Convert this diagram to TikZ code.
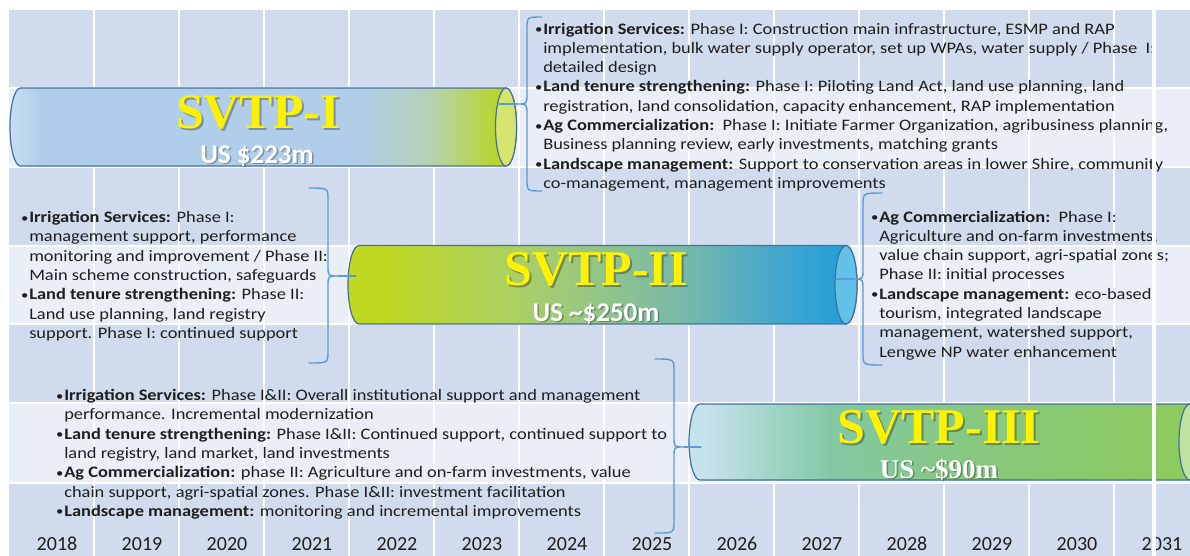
\documentclass[tikz,border=0pt]{standalone}
\usepackage{fontspec}
\setmainfont{Carlito}
\newfontfamily\tnr{Liberation Serif}
\definecolor{bgdark}{RGB}{208,220,238}
\definecolor{bglight}{RGB}{233,238,247}
\definecolor{cylline}{RGB}{65,113,156}
\definecolor{bracec}{RGB}{91,155,213}
\definecolor{txtc}{RGB}{30,30,30}
\definecolor{aL}{RGB}{200,222,241}
\definecolor{aM}{RGB}{176,206,233}
\definecolor{aX}{RGB}{182,210,180}
\definecolor{aG}{RGB}{185,212,44}
\definecolor{capI}{RGB}{212,228,108}
\definecolor{bY}{RGB}{192,217,32}
\definecolor{bG}{RGB}{168,206,107}
\definecolor{bT}{RGB}{122,185,170}
\definecolor{bS}{RGB}{60,165,208}
\definecolor{bB}{RGB}{28,156,216}
\definecolor{capII}{RGB}{99,192,232}
\definecolor{cL}{RGB}{198,226,236}
\definecolor{cT}{RGB}{130,200,165}
\definecolor{cM}{RGB}{135,200,130}
\definecolor{cG}{RGB}{141,203,96}
\definecolor{capIII}{RGB}{190,227,160}
\newcommand\bul{\makebox[7pt][l]{\raisebox{0.5pt}{\scalebox{0.8}{\textbullet}}}}
\newcommand\ind{\hspace*{7pt}}
\newcommand\blk[1]{\scalebox{1.15}[1]{\vtop{\baselineskip=19.3pt\lineskiplimit=-20pt\lineskip=0pt #1}}}
\tikzset{
  gridline/.style={draw=white, line width=2pt},
  cyl/.style={draw=cylline, line width=1.2pt},
  bracepath/.style={draw=bracec, line width=1.4pt, line cap=round},
  txtblock/.style={anchor=base west, inner sep=0pt, text=txtc, font=\fontsize{16}{19.3}\selectfont},
  title/.style={anchor=base, inner sep=0pt, text=yellow, font=\tnr\bfseries\fontsize{50}{50}\selectfont},
  titleshadow/.style={title, text=black, opacity=0.3},
  cost/.style={anchor=base, inner sep=0pt, text=white, font=\bfseries\fontsize{27}{27}\selectfont},
  costserif/.style={cost, font=\tnr\bfseries\fontsize{27}{27}\selectfont},
  costshadow/.style={text=black, opacity=0.3},
  year/.style={anchor=base, inner sep=0pt, text=txtc, font=\fontsize{20}{20}\selectfont}
}
\begin{document}
\begin{tikzpicture}[x=1pt,y=-1pt]
\useasboundingbox (0,0) rectangle (1190,555);
\begin{scope}
\clip (0,0) rectangle (1190,555);
\fill[white] (0,0) rectangle (1190,555);
% background table
\fill[bgdark] (9,10) rectangle (1200,560);
\foreach \t/\b in {88/167, 246/324, 403/483}{
  \fill[bglight] (9,\t) rectangle (1200,\b);
}
\foreach \k in {1,...,13}{
  \draw[gridline] ({9+85*\k},10) -- ({9+85*\k},560);
}
\foreach \yy in {88,167,246,324,403,483}{
  \draw[gridline] (9,\yy) -- (1200,\yy);
}

% ---------- SVTP-I cylinder ----------
\begin{scope}
\clip (506,88) -- (20.5,88) arc[start angle=270, end angle=90, x radius=10.5, y radius=39] -- (506,166) arc[start angle=90, end angle=-90, x radius=10.5, y radius=39] -- cycle;
\shade[left color=aL, right color=aM] (9,80) rectangle (41,175);
\fill[aM] (40,80) rectangle (361,175);
\shade[left color=aM, right color=aX] (360,80) rectangle (431,175);
\shade[left color=aX, right color=aG] (430,80) rectangle (496,175);
\fill[aG] (495,80) rectangle (520,175);
\end{scope}
\path[cyl] (506,88) -- (20.5,88) arc[start angle=270, end angle=90, x radius=10.5, y radius=39] -- (506,166) arc[start angle=90, end angle=-90, x radius=10.5, y radius=39] -- cycle;
\path[cyl, fill=capI] (506,127) ellipse [x radius=10.5, y radius=39];
\coordinate (capI) at (499,104);

% ---------- SVTP-II cylinder ----------
\begin{scope}
\clip (846,245.5) -- (359,245.5) arc[start angle=270, end angle=90, x radius=11, y radius=39.25] -- (846,324) arc[start angle=90, end angle=-90, x radius=11, y radius=39.25] -- cycle;
\fill[bY] (340,240) rectangle (381,330);
\shade[left color=bY, right color=bG] (380,240) rectangle (531,330);
\shade[left color=bG, right color=bT] (530,240) rectangle (681,330);
\shade[left color=bT, right color=bS] (680,240) rectangle (791,330);
\shade[left color=bS, right color=bB] (790,240) rectangle (860,330);
\end{scope}
\path[cyl] (846,245.5) -- (359,245.5) arc[start angle=270, end angle=90, x radius=11, y radius=39.25] -- (846,324) arc[start angle=90, end angle=-90, x radius=11, y radius=39.25] -- cycle;
\path[cyl, fill=capII] (846,284.75) ellipse [x radius=11, y radius=39.25];
\coordinate (capIIa) at (356,276);
\coordinate (capIIb) at (836,279);

% ---------- SVTP-III cylinder ----------
\begin{scope}
\clip (1190,404) -- (700,404) arc[start angle=270, end angle=90, x radius=11, y radius=38] -- (1190,480) arc[start angle=90, end angle=-90, x radius=11, y radius=38] -- cycle;
\fill[cL] (680,400) rectangle (706,485);
\shade[left color=cL, right color=cT] (705,400) rectangle (831,485);
\shade[left color=cT, right color=cM] (830,400) rectangle (961,485);
\shade[left color=cM, right color=cG] (960,400) rectangle (1161,485);
\fill[cG] (1160,400) rectangle (1205,485);
\end{scope}
\path[cyl] (1190,404) -- (700,404) arc[start angle=270, end angle=90, x radius=11, y radius=38] -- (1190,480) arc[start angle=90, end angle=-90, x radius=11, y radius=38] -- cycle;
\path[cyl, fill=capIII] (1190,442) ellipse [x radius=11, y radius=38];
\coordinate (capIII) at (701,447);

% ---------- titles ----------
\node[titleshadow] (tIs) at (260,130) {SVTP-I};
\node[title] (tI) at (258,128) {SVTP-I};
\node[cost, costshadow] (cIs) at (258.5,164.5) {US \$223m};
\node[cost] (cI) at (257,163) {US \$223m};

\node[titleshadow] (tIIs) at (598,287) {SVTP-II};
\node[title] (tII) at (596,285) {SVTP-II};
\node[cost, costshadow] (cIIs) at (597.5,322.5) {US \textasciitilde\$250m};
\node[cost] (cII) at (596,321) {US \textasciitilde\$250m};

\node[titleshadow] (tIIIs) at (941,445) {SVTP-III};
\node[title] (tIII) at (939,443) {SVTP-III};
\node[costserif, costshadow] (cIIIs) at (940.5,479.5) {US \textasciitilde\$90m};
\node[costserif] (cIII) at (939,478) {US \textasciitilde\$90m};

% ---------- braces ----------
% SVTP-I  "{"
\coordinate (bIt) at (517,104);
\draw[bracepath] (542,17) .. controls (527,17) .. (527,29) -- (527,94) .. controls (527,104) .. (bIt) .. controls (527,104) .. (527,114) -- (527,179) .. controls (527,191) .. (542,191);
\draw[bracepath] (bIt) -- (capI);
% SVTP-II left "}"
\coordinate (bIIat) at (338,276);
\draw[bracepath] (309,188) .. controls (328,188) .. (328,200) -- (328,266) .. controls (328,276) .. (bIIat) .. controls (328,276) .. (328,286) -- (328,351) .. controls (328,363) .. (309,363);
\draw[bracepath] (bIIat) -- (capIIa);
% SVTP-II right "{"
\coordinate (bIIbt) at (853,279);
\draw[bracepath] (882,193) .. controls (863,193) .. (863,205) -- (863,269) .. controls (863,279) .. (bIIbt) .. controls (863,279) .. (863,289) -- (863,353) .. controls (863,365) .. (882,365);
\draw[bracepath] (bIIbt) -- (capIIb);
% SVTP-III "}"
\coordinate (bIIIt) at (684,447);
\draw[bracepath] (655,359) .. controls (674,359) .. (674,371) -- (674,437) .. controls (674,447) .. (bIIIt) .. controls (674,447) .. (674,457) -- (674,521) .. controls (674,533) .. (655,533);
\draw[bracepath] (bIIIt) -- (capIII);

% ---------- text blocks ----------
\node[txtblock] (sI) at (535,34) {\blk{%
\hbox{\bul\textbf{Irrigation Services:} Phase I: Construction main infrastructure, ESMP and RAP}
\hbox{\ind implementation, bulk water supply operator, set up WPAs, water supply / Phase\ \ I:}
\hbox{\ind detailed design}
\hbox{\bul\textbf{Land tenure strengthening:} Phase I: Piloting Land Act, land use planning, land}
\hbox{\ind registration, land consolidation, capacity enhancement, RAP implementation}
\hbox{\bul\textbf{Ag Commercialization:}\ \ Phase I: Initiate Farmer Organization, agribusiness planning,}
\hbox{\ind Business planning review, early investments, matching grants}
\hbox{\bul\textbf{Landscape management:} Support to conservation areas in lower Shire, community}
\hbox{\ind co-management, management improvements}}};

\node[txtblock] (sIIa) at (21,222.5) {\blk{%
\hbox{\bul\textbf{Irrigation Services:} Phase I:}
\hbox{\ind management support, performance}
\hbox{\ind monitoring and improvement / Phase II:}
\hbox{\ind Main scheme construction, safeguards}
\hbox{\bul\textbf{Land tenure strengthening:} Phase II:}
\hbox{\ind Land use planning, land registry}
\hbox{\ind support. Phase I: continued support}}};

\node[txtblock] (sIIb) at (871,222) {\blk{%
\hbox{\bul\textbf{Ag Commercialization:}\ \ Phase I:}
\hbox{\ind Agriculture and on-farm investments,}
\hbox{\ind value chain support, agri-spatial zones;}
\hbox{\ind Phase II: initial processes}
\hbox{\bul\textbf{Landscape management:} eco-based}
\hbox{\ind tourism, integrated landscape}
\hbox{\ind management, watershed support,}
\hbox{\ind Lengwe NP water enhancement}}};

\node[txtblock] (sIII) at (56,400.5) {\blk{%
\hbox{\bul\textbf{Irrigation Services:} Phase I\&II: Overall institutional support and management}
\hbox{\ind performance. Incremental modernization}
\hbox{\bul\textbf{Land tenure strengthening:} Phase I\&II: Continued support, continued support to}
\hbox{\ind land registry, land market, land investments}
\hbox{\bul\textbf{Ag Commercialization:} phase II: Agriculture and on-farm investments, value}
\hbox{\ind chain support, agri-spatial zones. Phase I\&II: investment facilitation}
\hbox{\bul\textbf{Landscape management:} monitoring and incremental improvements}}};

% ---------- years ----------
\foreach \yr [count=\i from 0] in {2018,...,2031}{
  \node[year] (y\yr) at ({57+85*\i},550) {\yr};
}

% thick white line drawn over everything
\draw[draw=white, line width=3.5pt] (1154,10) -- (1154,560);
\end{scope}
\end{tikzpicture}
\end{document}
